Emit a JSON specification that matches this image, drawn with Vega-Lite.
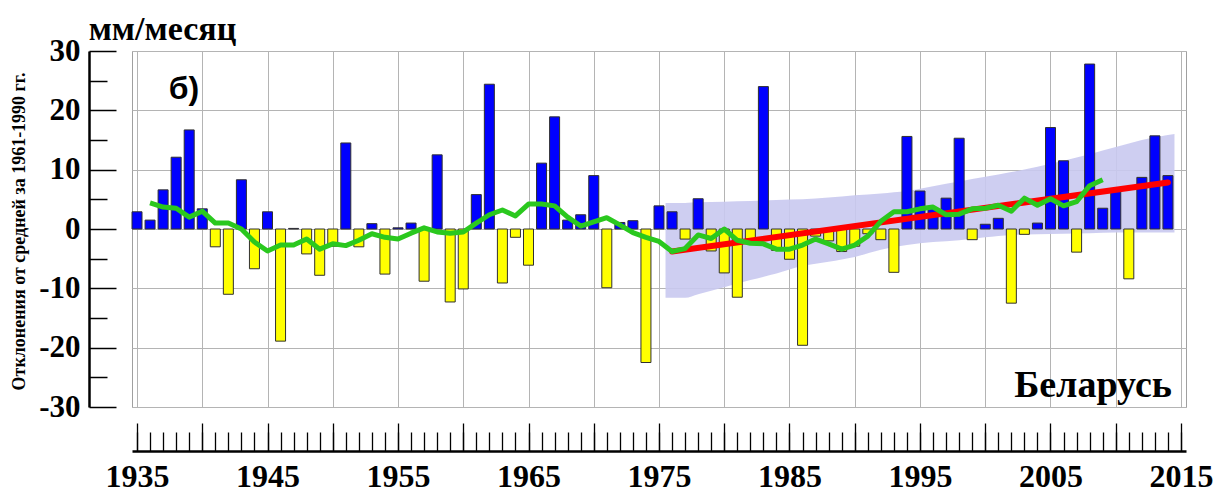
{
  "$schema": "https://vega.github.io/schema/vega-lite/v6.json",
  "width": 1054,
  "height": 356,
  "autosize": {"type": "none"},
  "padding": {"left": 132, "top": 51, "right": 37, "bottom": 87},
  "background": "white",
  "config": {"view": {"stroke": "#a0a0a0", "strokeWidth": 1}},
  "datasets": {
    "bars": [
      {"year": 1935, "v": 2.9}, {"year": 1936, "v": 1.5}, {"year": 1937, "v": 6.6}, {"year": 1938, "v": 12.1},
      {"year": 1939, "v": 16.7}, {"year": 1940, "v": 3.4}, {"year": 1941, "v": -3.0}, {"year": 1942, "v": -11.0},
      {"year": 1943, "v": 8.3}, {"year": 1944, "v": -6.7}, {"year": 1945, "v": 2.9}, {"year": 1946, "v": -18.9},
      {"year": 1947, "v": 0.1}, {"year": 1948, "v": -4.2}, {"year": 1949, "v": -7.8}, {"year": 1950, "v": -2.9},
      {"year": 1951, "v": 14.5}, {"year": 1952, "v": -3.0}, {"year": 1953, "v": 0.9}, {"year": 1954, "v": -7.6},
      {"year": 1955, "v": 0.2}, {"year": 1956, "v": 1.0}, {"year": 1957, "v": -8.8}, {"year": 1958, "v": 12.5},
      {"year": 1959, "v": -12.3}, {"year": 1960, "v": -10.1}, {"year": 1961, "v": 5.8}, {"year": 1962, "v": 24.4},
      {"year": 1963, "v": -9.1}, {"year": 1964, "v": -1.4}, {"year": 1965, "v": -6.1}, {"year": 1966, "v": 11.1},
      {"year": 1967, "v": 18.9}, {"year": 1968, "v": 1.5}, {"year": 1969, "v": 2.4}, {"year": 1970, "v": 9.0},
      {"year": 1971, "v": -9.9}, {"year": 1972, "v": 1.1}, {"year": 1973, "v": 1.4}, {"year": 1974, "v": -22.5},
      {"year": 1975, "v": 3.9}, {"year": 1976, "v": 2.9}, {"year": 1977, "v": -1.7}, {"year": 1978, "v": 5.1},
      {"year": 1979, "v": -3.7}, {"year": 1980, "v": -7.4}, {"year": 1981, "v": -11.5}, {"year": 1982, "v": -1.7},
      {"year": 1983, "v": 24.0}, {"year": 1984, "v": -3.6}, {"year": 1985, "v": -5.1}, {"year": 1986, "v": -19.6},
      {"year": 1987, "v": -1.2}, {"year": 1988, "v": -2.0}, {"year": 1989, "v": -3.8}, {"year": 1990, "v": -2.9},
      {"year": 1991, "v": -0.8}, {"year": 1992, "v": -1.8}, {"year": 1993, "v": -7.3}, {"year": 1994, "v": 15.6},
      {"year": 1995, "v": 6.4}, {"year": 1996, "v": 3.5}, {"year": 1997, "v": 5.2}, {"year": 1998, "v": 15.3},
      {"year": 1999, "v": -1.8}, {"year": 2000, "v": 0.8}, {"year": 2001, "v": 1.8}, {"year": 2002, "v": -12.5},
      {"year": 2003, "v": -0.9}, {"year": 2004, "v": 1.0}, {"year": 2005, "v": 17.1}, {"year": 2006, "v": 11.5},
      {"year": 2007, "v": -3.9}, {"year": 2008, "v": 27.8}, {"year": 2009, "v": 3.5}, {"year": 2010, "v": 6.4},
      {"year": 2011, "v": -8.4}, {"year": 2012, "v": 8.7}, {"year": 2013, "v": 15.7}, {"year": 2014, "v": 9.0}
    ],
    "smooth": [
      {"year": 1936, "v": 4.4}, {"year": 1937, "v": 3.7}, {"year": 1938, "v": 3.5}, {"year": 1939, "v": 2.0},
      {"year": 1940, "v": 3.0}, {"year": 1941, "v": 1.0}, {"year": 1942, "v": 1.0}, {"year": 1943, "v": 0.0},
      {"year": 1944, "v": -2.2}, {"year": 1945, "v": -3.7}, {"year": 1946, "v": -2.7}, {"year": 1947, "v": -2.7},
      {"year": 1948, "v": -1.7}, {"year": 1949, "v": -3.4}, {"year": 1950, "v": -2.5}, {"year": 1951, "v": -2.8},
      {"year": 1952, "v": -1.9}, {"year": 1953, "v": -0.8}, {"year": 1954, "v": -1.4}, {"year": 1955, "v": -1.7},
      {"year": 1956, "v": -0.7}, {"year": 1957, "v": 0.2}, {"year": 1958, "v": -0.5}, {"year": 1959, "v": -0.7},
      {"year": 1960, "v": -0.5}, {"year": 1961, "v": 1.0}, {"year": 1962, "v": 2.4}, {"year": 1963, "v": 3.2},
      {"year": 1964, "v": 2.2}, {"year": 1965, "v": 4.2}, {"year": 1966, "v": 4.2}, {"year": 1967, "v": 3.9},
      {"year": 1968, "v": 2.0}, {"year": 1969, "v": 0.5}, {"year": 1970, "v": 1.2}, {"year": 1971, "v": 1.9},
      {"year": 1972, "v": 0.7}, {"year": 1973, "v": -0.6}, {"year": 1974, "v": -1.4}, {"year": 1975, "v": -2.1},
      {"year": 1976, "v": -3.8}, {"year": 1977, "v": -3.3}, {"year": 1978, "v": -1.0}, {"year": 1979, "v": -1.6},
      {"year": 1980, "v": 0.0}, {"year": 1981, "v": -1.9}, {"year": 1982, "v": -2.4}, {"year": 1983, "v": -2.5},
      {"year": 1984, "v": -3.4}, {"year": 1985, "v": -3.4}, {"year": 1986, "v": -2.7}, {"year": 1987, "v": -1.7},
      {"year": 1988, "v": -2.5}, {"year": 1989, "v": -3.4}, {"year": 1990, "v": -2.7}, {"year": 1991, "v": -1.2},
      {"year": 1992, "v": 1.3}, {"year": 1993, "v": 2.9}, {"year": 1994, "v": 2.9}, {"year": 1995, "v": 3.4},
      {"year": 1996, "v": 3.7}, {"year": 1997, "v": 2.4}, {"year": 1998, "v": 2.5}, {"year": 1999, "v": 3.4},
      {"year": 2000, "v": 3.5}, {"year": 2001, "v": 4.0}, {"year": 2002, "v": 3.0}, {"year": 2003, "v": 5.2},
      {"year": 2004, "v": 4.0}, {"year": 2005, "v": 5.1}, {"year": 2006, "v": 3.9}, {"year": 2007, "v": 4.6},
      {"year": 2008, "v": 7.3}, {"year": 2009, "v": 8.3}
    ],
    "trend": [
      {"year": 1976, "v": -3.8}, {"year": 2014, "v": 7.85}
    ],
    "band": [
      {"year": 1975.5, "lo": -11.6, "hi": 4.4}, {"year": 1977, "lo": -11.6, "hi": 4.4},
      {"year": 1978, "lo": -11.0, "hi": 4.5}, {"year": 1980, "lo": -9.8, "hi": 4.6},
      {"year": 1982, "lo": -8.6, "hi": 4.7}, {"year": 1984, "lo": -7.5, "hi": 4.9},
      {"year": 1986, "lo": -6.2, "hi": 5.0}, {"year": 1988, "lo": -5.5, "hi": 5.3},
      {"year": 1990, "lo": -4.7, "hi": 5.7}, {"year": 1992, "lo": -3.5, "hi": 6.0},
      {"year": 1994, "lo": -2.7, "hi": 6.4}, {"year": 1996, "lo": -2.2, "hi": 7.2},
      {"year": 1998, "lo": -1.9, "hi": 8.0}, {"year": 2000, "lo": -1.4, "hi": 8.8},
      {"year": 2002, "lo": -1.0, "hi": 9.6}, {"year": 2004, "lo": -0.9, "hi": 10.5},
      {"year": 2006, "lo": -0.8, "hi": 11.5}, {"year": 2008, "lo": -0.7, "hi": 12.6},
      {"year": 2010, "lo": -0.6, "hi": 13.8}, {"year": 2012, "lo": -0.6, "hi": 15.0},
      {"year": 2014.5, "lo": -0.6, "hi": 16.0}
    ],
    "panel": [{"year": 1938.6, "v": 23.6, "t": "б)"}],
    "country": [{"year": 2014.3, "v": -28.3, "t": "Беларусь"}],
    "units": [{"year": 1931.3, "v": 31.9, "t": "мм/месяц"}]
  },
  "layer": [
    {
      "data": {"name": "band"},
      "mark": {"type": "area", "color": "#c9c9f0", "opacity": 0.9, "interpolate": "monotone"},
      "encoding": {
        "x": {"field": "year", "type": "quantitative", "scale": {"domain": [1935, 2015], "nice": false, "zero": false},
          "axis": {"orient": "bottom", "values": [1935,1940,1945,1950,1955,1960,1965,1970,1975,1980,1985,1990,1995,2000,2005,2010,2015],
            "grid": true, "gridColor": "#b4b4b4", "gridWidth": 1, "domain": false, "ticks": false, "labels": false, "title": null}},
        "y": {"field": "lo", "type": "quantitative", "scale": {"domain": [-30, 30], "nice": false},
          "axis": {"orient": "left", "values": [-30,-20,-10,0,10,20,30],
            "grid": true, "gridColor": "#b4b4b4", "gridWidth": 1, "domain": false, "ticks": false, "labels": false, "title": null}},
        "y2": {"field": "hi"}
      }
    },
    {
      "data": {"name": "bars"},
      "mark": {"type": "bar", "size": 10, "stroke": "#303030", "strokeWidth": 1},
      "encoding": {
        "x": {"field": "year", "type": "quantitative", "scale": {"domain": [1935, 2015], "nice": false, "zero": false},
          "axis": {"orient": "bottom", "offset": 44, "values": [1935,1945,1955,1965,1975,1985,1995,2005,2015],
            "grid": false, "domain": true, "domainColor": "black", "domainWidth": 2.5, "ticks": false,
            "labelExpr": "'' + datum.value", "labelFont": "Liberation Serif", "labelFontWeight": "bold", "labelFontSize": 32,
            "labelColor": "black", "labelPadding": 10, "labelFlush": false, "labelOverlap": false, "title": null}},
        "y": {"field": "v", "type": "quantitative", "scale": {"domain": [-30, 30], "nice": false},
          "axis": {"orient": "left", "offset": 43, "values": [-30,-20,-10,0,10,20,30],
            "grid": false, "domain": true, "domainColor": "black", "domainWidth": 2.5, "ticks": false,
            "labelExpr": "'' + datum.value", "labelFont": "Liberation Serif", "labelFontWeight": "bold", "labelFontSize": 31,
            "labelColor": "black", "labelPadding": 9, "labelOverlap": false, "labelFlush": false,
            "title": "Отклонения от средней за 1961-1990 гг.", "titleFont": "Liberation Serif", "titleFontWeight": "bold",
            "titleFontSize": 18, "titleColor": "black", "titleAngle": -90, "titleX": -70, "titleY": 180,
            "titleAlign": "center", "titleBaseline": "middle"}},
        "color": {"condition": {"test": "datum.v >= 0", "value": "#0000ff"}, "value": "#ffff00"}
      }
    },
    {
      "data": {"name": "trend"},
      "mark": {"type": "line", "color": "#ff0000", "strokeWidth": 6, "strokeCap": "round"},
      "encoding": {
        "x": {"field": "year", "type": "quantitative", "scale": {"domain": [1935, 2015], "nice": false, "zero": false},
          "axis": {"orient": "bottom", "offset": 16, "values": [1935,1940,1945,1950,1955,1960,1965,1970,1975,1980,1985,1990,1995,2000,2005,2010,2015],
            "grid": false, "domain": false, "ticks": true, "tickSize": 28, "tickColor": "black", "tickWidth": 1.3, "labels": false, "title": null}},
        "y": {"field": "v", "type": "quantitative", "scale": {"domain": [-30, 30], "nice": false},
          "axis": {"orient": "left", "offset": 16, "values": [-30,-20,-10,0,10,20,30],
            "grid": false, "domain": false, "ticks": true, "tickSize": 27, "tickColor": "black", "tickWidth": 1.5, "labels": false, "title": null}}
      }
    },
    {
      "data": {"name": "smooth"},
      "mark": {"type": "line", "color": "#2ac81e", "strokeWidth": 5, "strokeJoin": "round"},
      "encoding": {
        "x": {"field": "year", "type": "quantitative", "scale": {"domain": [1935, 2015], "nice": false, "zero": false},
          "axis": {"orient": "bottom", "offset": 25, "values": [1935,1936,1937,1938,1939,1940,1941,1942,1943,1944,1945,1946,1947,1948,1949,1950,1951,1952,1953,1954,1955,1956,1957,1958,1959,1960,1961,1962,1963,1964,1965,1966,1967,1968,1969,1970,1971,1972,1973,1974,1975,1976,1977,1978,1979,1980,1981,1982,1983,1984,1985,1986,1987,1988,1989,1990,1991,1992,1993,1994,1995,1996,1997,1998,1999,2000,2001,2002,2003,2004,2005,2006,2007,2008,2009,2010,2011,2012,2013,2014,2015],
            "grid": false, "domain": false, "ticks": true, "tickSize": 19, "tickColor": "black", "tickWidth": 1.3, "labels": false, "title": null}},
        "y": {"field": "v", "type": "quantitative", "scale": {"domain": [-30, 30], "nice": false},
          "axis": {"orient": "left", "offset": 25, "values": [-25,-15,-5,5,15,25],
            "grid": false, "domain": false, "ticks": true, "tickSize": 18, "tickColor": "black", "tickWidth": 1.5, "labels": false, "title": null}}
      }
    },
    {
      "data": {"name": "panel"},
      "mark": {"type": "text", "font": "Liberation Sans", "fontWeight": "bold", "fontSize": 32, "color": "black", "align": "center", "baseline": "middle"},
      "encoding": {
        "x": {"field": "year", "type": "quantitative", "scale": {"domain": [1935, 2015], "nice": false, "zero": false}, "axis": null},
        "y": {"field": "v", "type": "quantitative", "scale": {"domain": [-30, 30], "nice": false}, "axis": null},
        "text": {"field": "t"}
      }
    },
    {
      "data": {"name": "country"},
      "mark": {"type": "text", "font": "Liberation Serif", "fontWeight": "bold", "fontSize": 38, "color": "black", "align": "right", "baseline": "alphabetic"},
      "encoding": {
        "x": {"field": "year", "type": "quantitative", "scale": {"domain": [1935, 2015], "nice": false, "zero": false}, "axis": null},
        "y": {"field": "v", "type": "quantitative", "scale": {"domain": [-30, 30], "nice": false}, "axis": null},
        "text": {"field": "t"}
      }
    },
    {
      "data": {"name": "units"},
      "mark": {"type": "text", "font": "Liberation Serif", "fontWeight": "bold", "fontSize": 34, "color": "black", "align": "left", "baseline": "alphabetic"},
      "encoding": {
        "x": {"field": "year", "type": "quantitative", "scale": {"domain": [1935, 2015], "nice": false, "zero": false}, "axis": null},
        "y": {"field": "v", "type": "quantitative", "scale": {"domain": [-30, 30], "nice": false}, "axis": null},
        "text": {"field": "t"}
      }
    }
  ],
  "resolve": {"axis": {"x": "independent", "y": "independent"}}
}
